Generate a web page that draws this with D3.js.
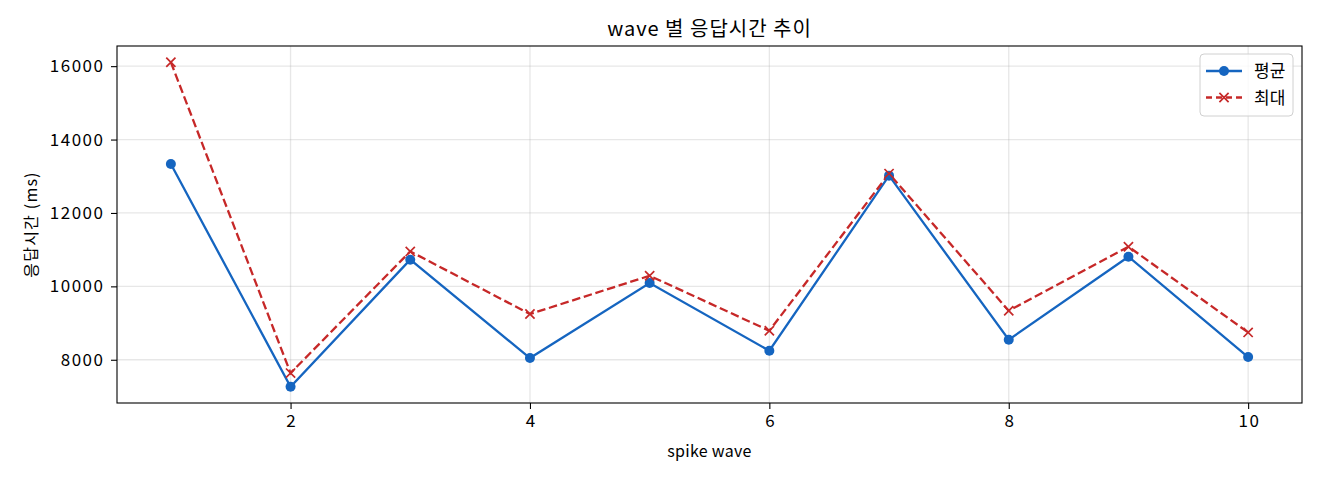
<!DOCTYPE html>
<html><head><meta charset="utf-8">
<script src="https://cdn.jsdelivr.net/npm/d3@7"></script>
<style>body{margin:0;background:#fff;} svg{display:block;} text{font-family:"Noto Sans CJK KR","Noto Sans",sans-serif;fill:#000;}</style>
</head><body>
<svg id="c" width="1320" height="480"></svg>
<script>
const waves = [1,2,3,4,5,6,7,8,9,10];
const avgMs = [13336,7264,10727,8046,10090,8245,13017,8545,10808,8073];
const maxMs = [16107,7637,10953,9246,10289,8791,13072,9336,11081,8745];
const xTicks = [2,4,6,8,10];
const yTicks = [8000,10000,12000,14000,16000];
const seriesNames = ["평균","최대"];
const titleText = "wave 별 응답시간 추이";
const xLabel = "spike wave";
const yLabel = "응답시간 (ms)";

const W=1320,H=480;
const m={l:117,r:18,t:46,b:77};
const svg=d3.select("#c");
const iw=W-m.l-m.r, ih=H-m.t-m.b;
const x=d3.scaleLinear().domain([0.55,10.45]).range([m.l,m.l+iw]);
const allV=avgMs.concat(maxMs);
const vmin=d3.min(allV), vmax=d3.max(allV), pad=(vmax-vmin)*0.05;
const y=d3.scaleLinear().domain([vmin-pad,vmax+pad]).range([m.t+ih,m.t]);

const g=svg.append("g");
g.selectAll(".gx").data(xTicks).enter().append("line")
 .attr("x1",d=>x(d)).attr("x2",d=>x(d)).attr("y1",m.t).attr("y2",m.t+ih)
 .attr("stroke","#b0b0b0").attr("stroke-opacity",0.3).attr("stroke-width",1.3);
g.selectAll(".gy").data(yTicks).enter().append("line")
 .attr("x1",m.l).attr("x2",m.l+iw).attr("y1",d=>y(d)).attr("y2",d=>y(d))
 .attr("stroke","#b0b0b0").attr("stroke-opacity",0.3).attr("stroke-width",1.3);

const fs=17;
const xa=svg.append("g").attr("transform",`translate(0,${m.t+ih})`)
 .call(d3.axisBottom(x).tickValues(xTicks).tickSize(6).tickPadding(6).tickFormat(d3.format("d")));
const ya=svg.append("g").attr("transform",`translate(${m.l},0)`)
 .call(d3.axisLeft(y).tickValues(yTicks).tickSize(6).tickPadding(6.5).tickFormat(d3.format("d")));
[xa,ya].forEach(a=>{a.select(".domain").remove();a.selectAll("line").attr("stroke","#000").attr("stroke-width",1.1);
 a.selectAll("text").style("font-size",fs+"px").style("letter-spacing","1.5px").style("font-family",'"Noto Sans CJK KR",sans-serif').attr("fill","#000");});
xa.selectAll("text").attr("dx","0.75px");

const blue="#1565c0", red="#c62828";
const line=d3.line().x((d,i)=>x(waves[i])).y(d=>y(d));
svg.append("path").datum(avgMs).attr("d",line).attr("fill","none").attr("stroke",blue).attr("stroke-width",2.3);
svg.append("path").datum(maxMs).attr("d",line).attr("fill","none").attr("stroke",red).attr("stroke-width",2.3).attr("stroke-dasharray","8.5,3.7");
svg.selectAll(".dot").data(avgMs).enter().append("circle")
 .attr("cx",(d,i)=>x(waves[i])).attr("cy",d=>y(d)).attr("r",5).attr("fill",blue);
const xs=4.6;
svg.selectAll(".xm").data(maxMs).enter().append("path")
 .attr("d",(d,i)=>{const cx=x(waves[i]),cy=y(d);return `M${cx-xs},${cy-xs}L${cx+xs},${cy+xs}M${cx-xs},${cy+xs}L${cx+xs},${cy-xs}`;})
 .attr("stroke",red).attr("stroke-width",1.7).attr("fill","none");

svg.append("rect").attr("x",m.l).attr("y",m.t).attr("width",iw).attr("height",ih).attr("fill","none").attr("stroke","#000").attr("stroke-width",1.1);

svg.append("text").attr("x",m.l+iw/2).attr("y",36).attr("text-anchor","middle").style("font-size","20px").style("letter-spacing","1px").text(titleText);
svg.append("text").attr("x",m.l+iw/2).attr("y",457).attr("text-anchor","middle").style("font-size","16px").style("letter-spacing","0.3px").text(xLabel);
svg.append("text").attr("transform",`translate(37,${m.t+ih/2}) rotate(-90)`).attr("text-anchor","middle").style("font-size","16px").style("letter-spacing","1.2px").text(yLabel);

const lg=svg.append("g");
lg.append("rect").attr("x",1200).attr("y",54).attr("width",93).attr("height",62).attr("rx",4)
 .attr("fill","#fff").attr("fill-opacity",0.8).attr("stroke","#d0d0d0").attr("stroke-width",1);
const rows=[{c:blue,dash:null,mk:"o"},{c:red,dash:"6,4",mk:"x"}];
rows.forEach((r,i)=>{
 const cy=71+i*26.5;
 const l=lg.append("line").attr("x1",1206).attr("x2",1242).attr("y1",cy).attr("y2",cy).attr("stroke",r.c).attr("stroke-width",2.3);
 if(r.dash) l.attr("stroke-dasharray",r.dash);
 if(r.mk==="o") lg.append("circle").attr("cx",1224).attr("cy",cy).attr("r",5).attr("fill",r.c);
 else lg.append("path").attr("d",`M${1224-xs},${cy-xs}L${1224+xs},${cy+xs}M${1224-xs},${cy+xs}L${1224+xs},${cy-xs}`).attr("stroke",r.c).attr("stroke-width",1.7);
 lg.append("text").attr("x",1254).attr("y",cy+6).style("font-size","17px").text(seriesNames[i]);
});
</script>
</body></html>
